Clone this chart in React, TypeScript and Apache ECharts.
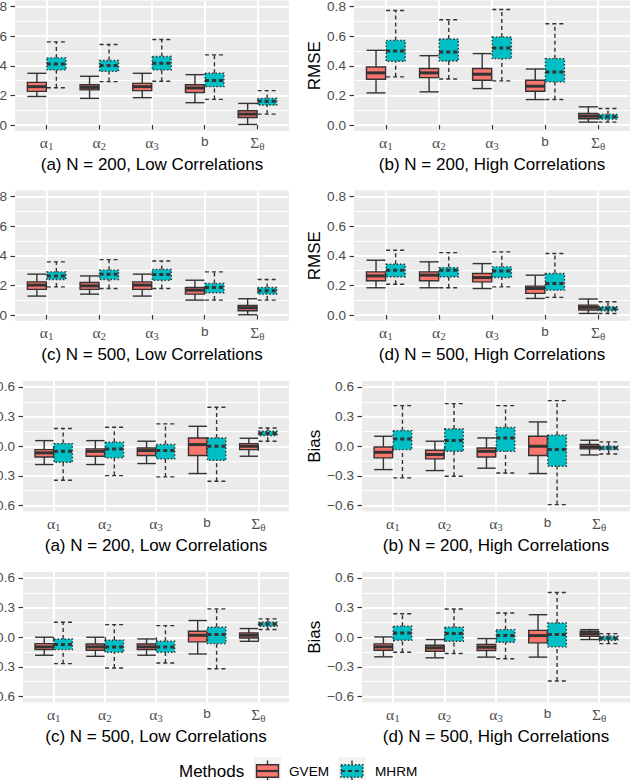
import React, { useEffect, useRef } from 'react';
import * as echarts from 'echarts';

// Parameters on the x axis of every panel
const categories = ['α1', 'α2', 'α3', 'b', 'Σθ'];
const methodNames = ['GVEM', 'MHRM'];
const methodColors = ['#F8766D', '#00BFC4'];

// Five-number summaries [min, Q1, median, Q3, max], one per parameter
const rmse200LowGVEM = [
  [0.193, 0.227, 0.259, 0.288, 0.349],
  [0.180, 0.237, 0.254, 0.272, 0.329],
  [0.185, 0.232, 0.259, 0.281, 0.349],
  [0.151, 0.220, 0.250, 0.272, 0.340],
  [0.004, 0.051, 0.074, 0.097, 0.146],
];
const rmse200LowMHRM = [
  [0.252, 0.372, 0.412, 0.453, 0.561],
  [0.293, 0.362, 0.401, 0.435, 0.543],
  [0.295, 0.372, 0.417, 0.462, 0.577],
  [0.173, 0.259, 0.300, 0.349, 0.473],
  [0.074, 0.135, 0.160, 0.180, 0.232],
];
const rmse200HighGVEM = [
  [0.217, 0.309, 0.352, 0.392, 0.504],
  [0.224, 0.320, 0.352, 0.381, 0.468],
  [0.246, 0.302, 0.343, 0.381, 0.482],
  [0.172, 0.228, 0.262, 0.302, 0.378],
  [0.020, 0.043, 0.060, 0.078, 0.123],
];
const rmse200HighMHRM = [
  [0.325, 0.430, 0.499, 0.571, 0.773],
  [0.311, 0.432, 0.493, 0.580, 0.710],
  [0.298, 0.448, 0.520, 0.594, 0.779],
  [0.172, 0.291, 0.358, 0.448, 0.683],
  [0.020, 0.040, 0.056, 0.072, 0.112],
];
const rmse500LowGVEM = [
  [0.128, 0.173, 0.202, 0.224, 0.276],
  [0.141, 0.173, 0.197, 0.220, 0.264],
  [0.128, 0.173, 0.202, 0.224, 0.276],
  [0.101, 0.141, 0.168, 0.186, 0.235],
  [0.002, 0.029, 0.049, 0.065, 0.110],
];
const rmse500LowMHRM = [
  [0.190, 0.240, 0.264, 0.291, 0.359],
  [0.179, 0.240, 0.276, 0.303, 0.374],
  [0.179, 0.235, 0.273, 0.307, 0.365],
  [0.101, 0.150, 0.186, 0.213, 0.291],
  [0.101, 0.141, 0.164, 0.186, 0.240],
];
const rmse500HighGVEM = [
  [0.184, 0.231, 0.264, 0.291, 0.370],
  [0.184, 0.231, 0.269, 0.291, 0.359],
  [0.179, 0.224, 0.253, 0.280, 0.347],
  [0.112, 0.146, 0.179, 0.195, 0.269],
  [0.011, 0.034, 0.052, 0.067, 0.108],
];
const rmse500HighMHRM = [
  [0.208, 0.258, 0.303, 0.343, 0.437],
  [0.184, 0.258, 0.303, 0.320, 0.421],
  [0.190, 0.253, 0.298, 0.325, 0.426],
  [0.119, 0.168, 0.213, 0.280, 0.415],
  [0.011, 0.029, 0.043, 0.056, 0.090],
];
const bias200LowGVEM = [
  [-0.185, -0.108, -0.067, -0.034, 0.057],
  [-0.185, -0.101, -0.051, -0.027, 0.057],
  [-0.175, -0.094, -0.044, -0.017, 0.051],
  [-0.276, -0.094, 0.017, 0.084, 0.202],
  [-0.101, -0.034, 0.000, 0.027, 0.081],
];
const bias200LowMHRM = [
  [-0.344, -0.162, -0.051, 0.027, 0.179],
  [-0.297, -0.118, -0.027, 0.040, 0.192],
  [-0.310, -0.128, -0.044, 0.017, 0.226],
  [-0.354, -0.142, 0.000, 0.084, 0.394],
  [0.051, 0.108, 0.128, 0.152, 0.185],
];
const bias200HighGVEM = [
  [-0.236, -0.118, -0.061, -0.007, 0.101],
  [-0.246, -0.128, -0.084, -0.040, 0.051],
  [-0.222, -0.108, -0.051, -0.017, 0.084],
  [-0.276, -0.094, 0.000, 0.101, 0.246],
  [-0.088, -0.027, -0.007, 0.017, 0.061],
];
const bias200HighMHRM = [
  [-0.320, -0.034, 0.074, 0.158, 0.411],
  [-0.303, -0.051, 0.057, 0.175, 0.431],
  [-0.270, -0.051, 0.084, 0.189, 0.411],
  [-0.590, -0.202, -0.034, 0.111, 0.462],
  [-0.078, -0.034, -0.017, 0.000, 0.044],
];
const bias500LowGVEM = [
  [-0.182, -0.125, -0.098, -0.064, 0.000],
  [-0.193, -0.132, -0.098, -0.068, 0.000],
  [-0.182, -0.125, -0.098, -0.068, -0.017],
  [-0.169, -0.047, 0.020, 0.061, 0.169],
  [-0.041, -0.007, 0.020, 0.044, 0.088],
];
const bias500LowMHRM = [
  [-0.267, -0.125, -0.074, -0.017, 0.152],
  [-0.311, -0.152, -0.098, -0.030, 0.128],
  [-0.260, -0.152, -0.098, -0.041, 0.118],
  [-0.318, -0.064, 0.027, 0.101, 0.287],
  [0.078, 0.111, 0.135, 0.152, 0.186],
];
const bias500HighGVEM = [
  [-0.198, -0.131, -0.097, -0.067, 0.003],
  [-0.208, -0.141, -0.107, -0.081, -0.023],
  [-0.201, -0.134, -0.101, -0.074, -0.013],
  [-0.201, -0.057, 0.017, 0.070, 0.228],
  [-0.023, 0.010, 0.037, 0.060, 0.077],
];
const bias500HighMHRM = [
  [-0.151, -0.030, 0.044, 0.111, 0.238],
  [-0.164, -0.040, 0.037, 0.101, 0.285],
  [-0.218, -0.050, 0.017, 0.077, 0.245],
  [-0.443, -0.097, 0.027, 0.144, 0.453],
  [-0.064, -0.030, -0.010, 0.010, 0.037],
];

const rmseTicks = { min: 0, max: 0.8, step: 0.2 };
const biasTicks = { min: -0.6, max: 0.6, step: 0.3 };

const panels = [
  { caption: '(a) N = 200, Low Correlations', yName: 'RMSE', boxes: [rmse200LowGVEM, rmse200LowMHRM], row: 0, col: 0 },
  { caption: '(b) N = 200, High Correlations', yName: 'RMSE', boxes: [rmse200HighGVEM, rmse200HighMHRM], row: 0, col: 1 },
  { caption: '(c) N = 500, Low Correlations', yName: 'RMSE', boxes: [rmse500LowGVEM, rmse500LowMHRM], row: 1, col: 0 },
  { caption: '(d) N = 500, High Correlations', yName: 'RMSE', boxes: [rmse500HighGVEM, rmse500HighMHRM], row: 1, col: 1 },
  { caption: '(a) N = 200, Low Correlations', yName: 'Bias', boxes: [bias200LowGVEM, bias200LowMHRM], row: 2, col: 0 },
  { caption: '(b) N = 200, High Correlations', yName: 'Bias', boxes: [bias200HighGVEM, bias200HighMHRM], row: 2, col: 1 },
  { caption: '(c) N = 500, Low Correlations', yName: 'Bias', boxes: [bias500LowGVEM, bias500LowMHRM], row: 3, col: 0 },
  { caption: '(d) N = 500, High Correlations', yName: 'Bias', boxes: [bias500HighGVEM, bias500HighMHRM], row: 3, col: 1 },
];

// ---- layout and style ----
const W = 637;
const H = 780;
const SANS = '"Liberation Sans", Arial, Helvetica, sans-serif';
const SERIF = '"Liberation Serif", "Times New Roman", serif';
const PANEL_BG = '#EBEBEB';
const EDGE = '#333333';
const TICK_TEXT = '#4D4D4D';
const TITLE_SIZE = 17;
const TICK_SIZE = 13.6;
const ROW_TOP = [0.5, 190.5, 381, 572];
const ROW_H = 130.5;
const COLS_RMSE = [[15, 289], [354, 630]];
const COLS_BIAS = [[23, 289], [362, 630]];
const NAME_GAP = { RMSE: 31.5, Bias: 39.5 };
const DODGE = 0.185; // box centre offset, in category units
const BOX_W = 0.36; // box width, in category units

const fmtTick = (v: number) => (v < -1e-9 ? '\u2212' : '') + Math.abs(v).toFixed(1);
const fmtCat = (c: string) => (c === 'b' ? '{t|b}' : `{g|${c[0]}}{s|${c.slice(1)}}`);

function boxRenderer(side: number, fill: string, dashed: boolean) {
  return (_params: any, api: any) => {
    const cat = api.value(0);
    const vals = [1, 2, 3, 4, 5].map((d) => api.value(d));
    const u = api.size([1, 0])[0];
    const cx = api.coord([cat, vals[2]])[0] + side * DODGE * u;
    const hw = (BOX_W * u) / 2;
    const y = vals.map((v) => api.coord([cat, v])[1]);
    const whisker: any = { stroke: EDGE, lineWidth: 1.4, fill: null };
    if (dashed) whisker.lineDash = [4, 3];
    const boxStyle: any = { fill, stroke: EDGE, lineWidth: 1.4 };
    if (dashed) boxStyle.lineDash = [1.5, 2];
    const medStyle: any = { stroke: EDGE, lineWidth: 3 };
    if (dashed) medStyle.lineDash = [4, 3];
    return {
      type: 'group',
      children: [
        { type: 'line', shape: { x1: cx, y1: y[0], x2: cx, y2: y[1] }, style: whisker },
        { type: 'line', shape: { x1: cx, y1: y[3], x2: cx, y2: y[4] }, style: whisker },
        { type: 'line', shape: { x1: cx - hw, y1: y[0], x2: cx + hw, y2: y[0] }, style: whisker },
        { type: 'line', shape: { x1: cx - hw, y1: y[4], x2: cx + hw, y2: y[4] }, style: whisker },
        { type: 'rect', shape: { x: cx - hw, y: y[3], width: 2 * hw, height: y[1] - y[3] }, style: boxStyle },
        { type: 'line', shape: { x1: cx - hw, y1: y[2], x2: cx + hw, y2: y[2] }, style: medStyle },
      ],
    };
  };
}

function legendKey(cx: number, cy: number, fill: string, dashed: boolean) {
  const hw = 11;
  const hh = 6.2;
  const dash = dashed ? { lineDash: [4, 3] } : {};
  const dot = dashed ? { lineDash: [1.5, 2] } : {};
  return {
    type: 'group',
    children: [
      { type: 'rect', shape: { x: cx - 13.5, y: cy - 14, width: 27, height: 28 }, style: { fill: '#F2F2F2' } },
      { type: 'line', shape: { x1: cx, y1: cy - 10.5, x2: cx, y2: cy - hh }, style: { stroke: EDGE, lineWidth: 1.4, ...dash } },
      { type: 'line', shape: { x1: cx, y1: cy + hh, x2: cx, y2: cy + 10.5 }, style: { stroke: EDGE, lineWidth: 1.4, ...dash } },
      { type: 'rect', shape: { x: cx - hw, y: cy - hh, width: 2 * hw, height: 2 * hh }, style: { fill, stroke: EDGE, lineWidth: 1.4, ...dot } },
      { type: 'line', shape: { x1: cx - hw, y1: cy, x2: cx + hw, y2: cy }, style: { stroke: EDGE, lineWidth: 2.2, ...dash } },
    ],
  };
}

function buildOption() {
  const grid: any[] = [];
  const xAxis: any[] = [];
  const yAxis: any[] = [];
  const series: any[] = [];

  panels.forEach((p) => {
    const ticks = p.yName === 'RMSE' ? rmseTicks : biasTicks;
    const [x0, x1] = (p.yName === 'RMSE' ? COLS_RMSE : COLS_BIAS)[p.col];
    const top = ROW_TOP[p.row];
    const width = x1 - x0;
    const span = ticks.max - ticks.min;
    const pad = (ROW_H * 0.05) / 1.1; // 5% expansion of the value range on each side
    const unit = width / 5.2; // 5 categories plus 0.6 expansion on each side
    const fixed = { outerBoundsMode: 'none', containLabel: false };

    // panel background
    const gBg = grid.length;
    grid.push({ ...fixed, left: x0, top, width, height: ROW_H, show: true, backgroundColor: PANEL_BG, borderWidth: 0 });
    xAxis.push({ gridIndex: gBg, type: 'value', show: false });
    yAxis.push({ gridIndex: gBg, type: 'value', show: false });

    // value scale with grid lines and tick labels; the left column's axis
    // title falls outside the canvas, so only the right column carries one
    const gVal = grid.length;
    grid.push({ ...fixed, left: x0, top: top + pad, width, height: ROW_H - 2 * pad });
    xAxis.push({ gridIndex: gVal, type: 'value', show: false });
    const yNamed =
      p.col === 1
        ? {
            name: p.yName,
            nameLocation: 'middle',
            nameGap: NAME_GAP[p.yName as 'RMSE' | 'Bias'],
            nameTextStyle: { color: '#000', fontSize: TITLE_SIZE, fontFamily: SANS },
          }
        : {};
    yAxis.push({
      gridIndex: gVal,
      type: 'value',
      min: ticks.min,
      max: ticks.max,
      interval: ticks.step,
      axisLine: { show: false },
      axisTick: { show: true, length: 4.5, lineStyle: { color: EDGE, width: 1.2 } },
      axisLabel: { formatter: fmtTick, color: TICK_TEXT, fontSize: TICK_SIZE, fontFamily: SANS, margin: 8 },
      splitLine: { show: true, lineStyle: { color: '#FFFFFF', width: 2 } },
      minorTick: { show: false, splitNumber: 2 },
      minorSplitLine: { show: true, lineStyle: { color: '#FFFFFF', width: 1 } },
      ...yNamed,
    });

    // categories and boxes
    const gCat = grid.length;
    grid.push({ ...fixed, left: x0 + 0.6 * unit, top, width: 4 * unit, height: ROW_H });
    xAxis.push({
      gridIndex: gCat,
      type: 'category',
      data: categories,
      boundaryGap: false,
      axisLine: { show: false },
      axisTick: { show: true, interval: 0, length: 4.5, lineStyle: { color: EDGE, width: 1.2 } },
      axisLabel: {
        interval: 0,
        margin: 3.5,
        formatter: fmtCat,
        rich: {
          g: { fontFamily: SERIF, fontSize: 15.5, color: TICK_TEXT, lineHeight: 14, verticalAlign: 'top' },
          s: { fontFamily: SERIF, fontSize: 11, color: TICK_TEXT, lineHeight: 10, verticalAlign: 'top', padding: [6, 0, 0, 0] },
          t: { fontFamily: SANS, fontSize: TICK_SIZE, color: TICK_TEXT, lineHeight: 14, verticalAlign: 'top' },
        },
      },
      splitLine: { show: true, interval: 0, lineStyle: { color: '#FFFFFF', width: 2 } },
      name: p.caption,
      nameLocation: 'middle',
      nameGap: 25,
      nameTextStyle: { color: '#000', fontSize: TITLE_SIZE, fontFamily: SANS },
    });
    yAxis.push({ gridIndex: gCat, type: 'value', min: ticks.min - 0.05 * span, max: ticks.max + 0.05 * span, show: false });

    p.boxes.forEach((stats, m) => {
      series.push({
        type: 'custom',
        name: methodNames[m],
        xAxisIndex: gCat,
        yAxisIndex: gCat,
        z: 3,
        renderItem: boxRenderer(m === 0 ? -1 : 1, methodColors[m], m === 1),
        encode: { x: 0, y: [1, 2, 3, 4, 5] },
        data: stats.map((s, k) => [k, ...s]),
      });
    });
  });

  const legendY = 771;
  const graphic = [
    { type: 'text', x: 179, y: legendY, style: { text: 'Methods', fontSize: TITLE_SIZE, fontFamily: SANS, fill: '#000', verticalAlign: 'middle', align: 'left' } },
    legendKey(267.5, legendY, methodColors[0], false),
    { type: 'text', x: 289, y: legendY, style: { text: methodNames[0], fontSize: TICK_SIZE, fontFamily: SANS, fill: '#000', verticalAlign: 'middle', align: 'left' } },
    legendKey(352, legendY, methodColors[1], true),
    { type: 'text', x: 375, y: legendY, style: { text: methodNames[1], fontSize: TICK_SIZE, fontFamily: SANS, fill: '#000', verticalAlign: 'middle', align: 'left' } },
  ];

  return {
    animation: false,
    backgroundColor: '#FFFFFF',
    grid,
    xAxis,
    yAxis,
    series,
    graphic,
  };
}

export default function App() {
  const ref = useRef<HTMLDivElement>(null);
  useEffect(() => {
    const chart = echarts.init(ref.current!, null, { renderer: 'svg' });
    chart.setOption(buildOption() as any);
    return () => chart.dispose();
  }, []);
  return <div ref={ref} style={{ position: 'absolute', left: 0, top: 0, width: W, height: H }} />;
}
